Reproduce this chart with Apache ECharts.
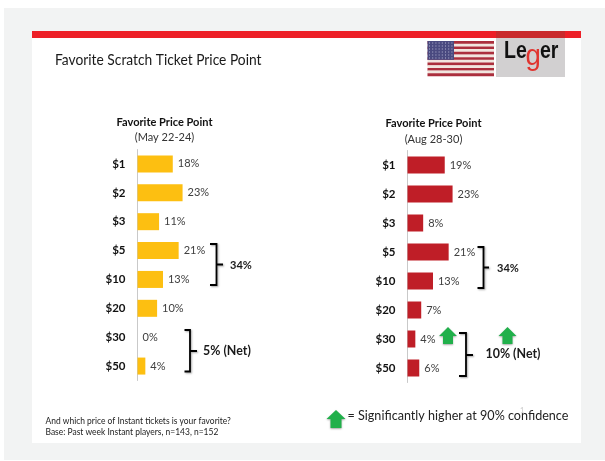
<!DOCTYPE html>
<html>
<head>
<meta charset="utf-8">
<title>Favorite Scratch Ticket Price Point</title>
<style>
    html, body { margin: 0; padding: 0; background: #fff; }
    #main { width: 605px; height: 461px; }
</style>
<script src="https://cdn.jsdelivr.net/npm/echarts@6/dist/echarts.min.js"></script>
</head>
<body>
<div id="main"></div>
<script>
var pricePoints = ["$1", "$2", "$3", "$5", "$10", "$20", "$30", "$50"];
var mayValues = [18, 23, 11, 21, 13, 10, 0, 4];
var augValues = [19, 23, 8, 21, 13, 7, 4, 6];
var mayTitle = "(May 22-24)";
var augTitle = "(Aug 28-30)";
var font = "Lato";

var _echart = echarts.init(document.getElementById("main"));

function textEl(x, y, text, size, opts) {
    opts = opts || {};
    return {
        type: "text",
        x: x,
        y: y,
        z: 10,
        scaleX: opts.scaleX || 0.92, // Lato runs wider than the slide's font
        style: {
            text: text,
            fontFamily: opts.family || font,
            fontSize: size,
            fontWeight: opts.bold ? "bold" : "normal",
            fill: opts.color || "#1a1a1a",
            align: opts.align || "left",
            verticalAlign: "middle"
        }
    };
}

function rectEl(x, y, w, h, color, z) {
    return {
        type: "rect",
        z: z || 1,
        shape: { x: x, y: y, width: w, height: h },
        style: { fill: color }
    };
}

// bracket opens to the left, nub points to the label
function bracketEl(x0, x1, top, bottom, mid, nub) {
    return {
        type: "polyline",
        z: 8,
        shape: {
            points: [[x0, top], [x1, top], [x1, mid], [nub, mid], [x1, mid], [x1, bottom], [x0, bottom]]
        },
        style: {
            stroke: "#000",
            lineWidth: 1.8,
            fill: null,
            shadowColor: "rgba(0,0,0,0.35)",
            shadowBlur: 2,
            shadowOffsetX: 1,
            shadowOffsetY: 1
        }
    };
}

function arrowEl(cx, top, headW, shaftW, headBottom, bottom) {
    return {
        type: "polygon",
        z: 8,
        shape: {
            points: [
                [cx, top], [cx + headW / 2, headBottom], [cx + shaftW / 2, headBottom],
                [cx + shaftW / 2, bottom], [cx - shaftW / 2, bottom],
                [cx - shaftW / 2, headBottom], [cx - headW / 2, headBottom]
            ]
        },
        style: {
            fill: "#21b04b",
            shadowColor: "rgba(0,0,0,0.35)",
            shadowBlur: 2,
            shadowOffsetY: 1
        }
    };
}

function flagEls() {
    var left = 427.5, top = 41, w = 66.5, h = 35;
    var els = [];
    var stripeH = h / 13;
    for (var i = 0; i < 13; i++) {
        els.push(rectEl(left, top + i * stripeH, w, stripeH + 0.2, i % 2 == 0 ? "#ab2f3d" : "#f1e6df", 3));
    }
    els.push(rectEl(left, top, 26.5, stripeH * 7, "#4a4a80", 4));
    for (var r = 0; r < 6; r++) {
        for (var c = 0; c < 8; c++) {
            els.push(rectEl(left + 1.5 + c * 3.2, top + 1.5 + r * 3, 1, 1, "#b4b4d2", 5));
        }
    }
    return els;
}

var logoFont = "Liberation Sans";
var graphics = [
    rectEl(4, 8, 601, 452, "#f2f3f3", 0),
    rectEl(32, 38, 549, 405, "#fff", 0),
    rectEl(32, 31, 549, 7, "#ed1f27", 1),
    rectEl(496, 38, 69, 39, "#d2d0d1", 2),
    rectEl(496, 31, 69, 7, "#c92a2c", 2),
    textEl(504, 51.5, "Le", 23, { bold: true, color: "#111", family: logoFont, scaleX: 0.85 }),
    textEl(525.5, 56.5, "g", 29, { color: "#e0342f", family: logoFont, scaleX: 0.95 }),
    textEl(540, 51.5, "er", 23, { bold: true, color: "#111", family: logoFont, scaleX: 0.85 }),
    textEl(55, 60, "Favorite Scratch Ticket Price Point", 15),
    textEl(164.5, 122, "Favorite Price Point", 12, { bold: true, align: "center", color: "#111" }),
    textEl(164.5, 137, mayTitle, 12, { align: "center", color: "#333" }),
    textEl(433.5, 123.5, "Favorite Price Point", 12, { bold: true, align: "center", color: "#111" }),
    textEl(433.5, 139, augTitle, 12, { align: "center", color: "#333" }),
    bracketEl(210, 216.5, 244, 285, 264.5, 223),
    textEl(230, 265, "34%", 12, { bold: true }),
    bracketEl(184.5, 190, 330, 371.5, 351, 197),
    textEl(203, 351, "5% (Net)", 13.5, { bold: true }),
    bracketEl(477.5, 483.5, 247, 288, 267.5, 489),
    textEl(497, 268, "34%", 12, { bold: true }),
    bracketEl(459, 466, 333, 376, 355, 473),
    textEl(485.5, 354, "10% (Net)", 13.5, { bold: true }),
    arrowEl(448, 327, 18, 10, 336, 344),
    arrowEl(507.5, 327, 18, 10, 336, 344),
    arrowEl(336, 410, 19, 11, 419, 428),
    textEl(347.5, 416, "= Significantly higher at 90% confidence", 13.7, { color: "#222" }),
    textEl(520, 410, "1", 8, { color: "#c8c8c8" }),
    textEl(45.5, 421, "And which price of Instant tickets is your favorite?", 9.2, { color: "#222" }),
    textEl(45.5, 432, "Base: Past week Instant players, n=143, n=152", 9.2, { color: "#222" })
].concat(flagEls());

function makeYAxis(gridIndex) {
    return {
        type: "category",
        gridIndex: gridIndex,
        data: pricePoints,
        inverse: true,
        z: 5,
        axisTick: { show: false },
        axisLine: { show: true, lineStyle: { color: "#c9c9c9", width: 1 } },
        axisLabel: {
            margin: 12,
            fontFamily: font,
            fontSize: 11.5,
            fontWeight: "bold",
            color: "#111"
        }
    };
}

function makeSeries(gridIndex, values, color) {
    return {
        type: "bar",
        xAxisIndex: gridIndex,
        yAxisIndex: gridIndex,
        data: values,
        barWidth: 17,
        z: 6,
        itemStyle: { color: color },
        label: {
            show: true,
            position: "right",
            distance: 5,
            formatter: "{c}%",
            fontFamily: font,
            fontSize: 11,
            color: "#404040"
        }
    };
}

_echart.setOption({
    animation: false,
    backgroundColor: "#fff",
    grid: [
        { left: 137.5, top: 149.5, width: 98, height: 231 },
        { left: 407.5, top: 150.5, width: 98, height: 232 }
    ],
    xAxis: [
        { type: "value", gridIndex: 0, min: 0, max: 50, show: false },
        { type: "value", gridIndex: 1, min: 0, max: 50, show: false }
    ],
    yAxis: [makeYAxis(0), makeYAxis(1)],
    series: [
        makeSeries(0, mayValues, "#fdbf11"),
        makeSeries(1, augValues, "#bf1e27")
    ],
    graphic: { elements: graphics }
});
</script>
</body>
</html>
